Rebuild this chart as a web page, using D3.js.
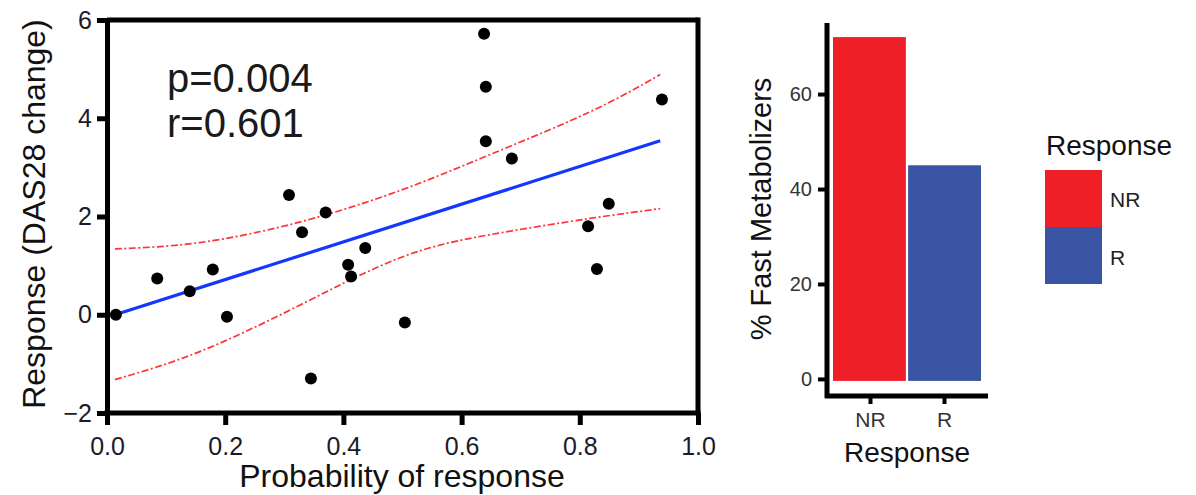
<!DOCTYPE html>
<html lang="en">
<head>
<meta charset="UTF-8">
<script src="https://d3js.org/d3.v7.min.js"></script>
<style>
  body, html { margin: 0; padding: 0; background: #fff; overflow: hidden; }
  svg { font-family: "Liberation Sans", Arial, sans-serif; display: block; }
  .axis path.domain, .axis line { stroke: #000; }
</style>
</head>
<body>
<svg id="chart" width="1196" height="495"></svg>
<script>
// ---- scatter data (probability of response vs DAS28 change) ----
const probX     = [0.015, 0.085, 0.14, 0.179, 0.203, 0.308, 0.33, 0.345, 0.37, 0.408, 0.413, 0.437, 0.504, 0.638, 0.641, 0.641, 0.685, 0.814, 0.829, 0.849, 0.939];
const dasChange = [0.0, 0.74, 0.48, 0.92, -0.04, 2.44, 1.68, -1.3, 2.08, 1.02, 0.78, 1.36, -0.16, 5.72, 4.64, 3.53, 3.18, 1.8, 0.93, 2.26, 4.38];

// fitted line and confidence band
const fitX = [0.0135, 0.936];
const fitY = [0.0, 3.54];
const ciX     = [0.0135, 0.157, 0.327, 0.496, 0.648, 0.817, 0.936];
const ciUpper = [1.34, 1.47, 1.89, 2.53, 3.26, 4.13, 4.89];
const ciLower = [-1.32, -0.75, 0.2, 1.16, 1.63, 1.96, 2.16];

const xTicks = [0, 0.2, 0.4, 0.6, 0.8, 1.0];
const yTicks = [-2, 0, 2, 4, 6];

// ---- bar data ----
const groups = ["NR", "R"];
const pctFast = [72, 45];
const groupColors = ["#ee1f27", "#3a54a4"];
const barTicks = [0, 20, 40, 60];

const svg = d3.select("#chart");

// ================= left: scatter =================
const x = d3.scaleLinear().domain([0, 1]).range([107, 698]);
const y = d3.scaleLinear().domain([-2, 6]).range([413, 20]);

const left = svg.append("g");

// frame top + right
left.append("line")
    .attr("x1", x(0)).attr("x2", x(1)).attr("y1", y(6)).attr("y2", y(6))
    .attr("stroke", "#000").attr("stroke-width", 5);
left.append("line")
    .attr("x1", x(1)).attr("x2", x(1)).attr("y1", y(6) - 2.5).attr("y2", y(-2))
    .attr("stroke", "#000").attr("stroke-width", 5);

const xAxis = left.append("g")
    .attr("class", "axis")
    .attr("transform", `translate(0,${y(-2)})`)
    .call(d3.axisBottom(x).tickValues(xTicks).tickFormat(d3.format(".1f"))
        .tickSize(12).tickSizeOuter(0).tickPadding(12));
const yAxis = left.append("g")
    .attr("class", "axis")
    .attr("transform", `translate(${x(0)},0)`)
    .call(d3.axisLeft(y).tickValues(yTicks).tickFormat(d3.format("d"))
        .tickSize(10).tickSizeOuter(0).tickPadding(5));

[xAxis, yAxis].forEach(g => {
    g.select(".domain").attr("stroke-width", 5);
    g.selectAll(".tick line").attr("stroke-width", 5);
    g.selectAll(".tick text")
        .attr("fill", "#1a1a2a")
        .style("font-size", "25px");
});
xAxis.select(".domain").attr("d", `M${x(0) - 2.5},0H${x(1) + 2.5}`);

// confidence band lines
const ciLine = d3.line().x(d => x(d[0])).y(d => y(d[1])).curve(d3.curveNatural);
[ciUpper, ciLower].forEach(vals => {
    left.append("path")
        .datum(ciX.map((v, i) => [v, vals[i]]))
        .attr("d", ciLine)
        .attr("fill", "none")
        .attr("stroke", "#ff3333")
        .attr("stroke-width", 1.7)
        .attr("stroke-dasharray", "7,2.5,2,2.5");
});

// regression line
left.append("path")
    .datum(fitX.map((v, i) => [v, fitY[i]]))
    .attr("d", d3.line().x(d => x(d[0])).y(d => y(d[1])))
    .attr("stroke", "#1437ff")
    .attr("stroke-width", 3.2)
    .attr("fill", "none");

// points
left.selectAll("circle.pt")
    .data(probX.map((v, i) => [v, dasChange[i]]))
    .enter().append("circle")
    .attr("class", "pt")
    .attr("cx", d => x(d[0]))
    .attr("cy", d => y(d[1]))
    .attr("r", 6)
    .attr("fill", "#000");

// stats text
left.append("text").attr("x", 167).attr("y", 92)
    .style("font-size", "40px").attr("fill", "#1a1a1a").text("p=0.004");
left.append("text").attr("x", 167).attr("y", 137)
    .style("font-size", "40px").attr("fill", "#1a1a1a").text("r=0.601");

// axis titles
left.append("text")
    .attr("transform", "translate(45,214) rotate(-90)")
    .attr("text-anchor", "middle")
    .style("font-size", "32px")
    .attr("fill", "#111")
    .text("Response (DAS28 change)");
left.append("text")
    .attr("x", 402).attr("y", 487)
    .attr("text-anchor", "middle")
    .style("font-size", "32px")
    .attr("fill", "#111")
    .text("Probability of response");

// ================= right: bars =================
const bx = d3.scaleBand().domain(groups).range([833, 981]).paddingInner(0.03);
const by = d3.scaleLinear().domain([-3.6, 75.6]).range([396, 20]);

const right = svg.append("g");

right.selectAll("rect.bar")
    .data(groups.map((g, i) => ({ g, v: pctFast[i], c: groupColors[i] })))
    .enter().append("rect")
    .attr("class", "bar")
    .attr("x", d => bx(d.g))
    .attr("width", bx.bandwidth())
    .attr("y", d => by(d.v))
    .attr("height", d => by(0) - by(d.v) + 2)
    .attr("fill", d => d.c);

// discrete x scale with ggplot-like expansion for the axis line
const bxAxis = d3.scalePoint().domain(groups).range([870, 944]);
const bxa = right.append("g")
    .attr("class", "axis")
    .attr("transform", "translate(0,396)")
    .call(d3.axisBottom(bxAxis).tickSize(8).tickSizeOuter(0).tickPadding(8));
bxa.select(".domain").attr("d", "M825,0H988").attr("stroke-width", 5);

const bya = right.append("g")
    .attr("class", "axis")
    .attr("transform", "translate(827,0)")
    .call(d3.axisLeft(by).tickValues(barTicks).tickSize(9).tickSizeOuter(0).tickPadding(6));
bya.select(".domain").attr("d", "M0,23V398").attr("stroke-width", 5);

[bxa, bya].forEach(g => {
    g.selectAll(".tick line").attr("stroke-width", 4).attr("stroke", "#333");
    g.selectAll(".tick text").attr("fill", "#333").style("font-size", "20px");
});
bxa.selectAll(".tick text").style("font-size", "21px");

right.append("text")
    .attr("transform", "translate(771,209) rotate(-90)")
    .attr("text-anchor", "middle")
    .style("font-size", "29px")
    .attr("fill", "#111")
    .text("% Fast Metabolizers");
right.append("text")
    .attr("x", 907).attr("y", 462)
    .attr("text-anchor", "middle")
    .style("font-size", "28px")
    .attr("fill", "#111")
    .text("Response");

// legend
const legend = right.append("g").attr("transform", "translate(1045,0)");
legend.append("text").attr("x", 1).attr("y", 155)
    .style("font-size", "28px").attr("fill", "#111").text("Response");
groups.forEach((g, i) => {
    legend.append("rect")
        .attr("x", 0).attr("y", 170 + i * 57)
        .attr("width", 57).attr("height", 57)
        .attr("fill", groupColors[i]);
    legend.append("text")
        .attr("x", 65).attr("y", 207 + i * 58)
        .style("font-size", "21px").attr("fill", "#222")
        .text(g);
});
</script>
</body>
</html>
